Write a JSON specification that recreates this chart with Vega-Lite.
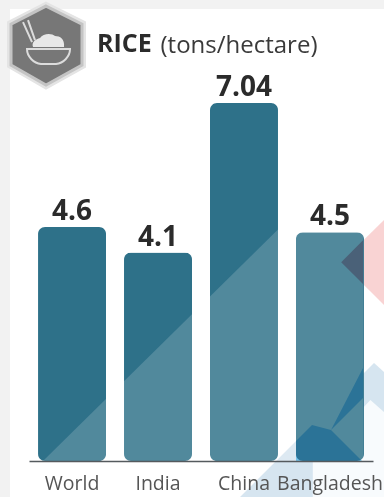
{
  "$schema": "https://vega.github.io/schema/vega-lite/v6.json",
  "width": 384,
  "height": 461,
  "autosize": "none",
  "padding": {"left": 0, "top": 0, "right": 0, "bottom": 36},
  "background": "#f2f2f2",
  "config": {"view": {"stroke": null}},
  "title": {
    "text": "RICE",
    "anchor": "start",
    "frame": "group",
    "dx": 97,
    "dy": 91,
    "baseline": "alphabetic",
    "font": "Open Sans",
    "fontSize": 25,
    "fontWeight": "bold",
    "color": "#2b2b2b"
  },
  "datasets": {
    "yields": [
      {"region": "World", "tons": 4.6},
      {"region": "India", "tons": 4.1},
      {"region": "China", "tons": 7.04},
      {"region": "Bangladesh", "tons": 4.5}
    ],
    "sheet": [{"slot": -0.22, "slotEnd": 4.128, "top": 8.89, "bottom": -0.71}],
    "sheen": [
      {"slot": 0.163, "tons": 0, "floor": 0},
      {"slot": 3.884, "tons": 6.2, "floor": 0}
    ],
    "rose": [
      {"slot": 3.63, "tons": 3.91, "floor": 3.91},
      {"slot": 4.128, "tons": 4.74, "floor": 3.07}
    ],
    "roseOnBar": [
      {"slot": 3.63, "tons": 3.91, "floor": 3.91},
      {"slot": 3.884, "tons": 4.34, "floor": 3.48}
    ],
    "sky": [
      {"slot": 2.453, "tons": -0.71, "floor": -0.71},
      {"slot": 4.012, "tons": 1.927, "floor": -0.71},
      {"slot": 4.128, "tons": 1.75, "floor": -0.71}
    ],
    "gap": [
      {"slot": 3.3, "tons": 0.0, "floor": -0.71},
      {"slot": 3.97, "tons": 1.2, "floor": -0.71},
      {"slot": 4.128, "tons": 0.964, "floor": -0.71}
    ],
    "deep": [
      {"piece": "a", "slot": 3.105, "tons": 0.393, "floor": 0},
      {"piece": "a", "slot": 3.291, "tons": 0.708, "floor": 0},
      {"piece": "a", "slot": 3.512, "tons": 0.61, "floor": 0},
      {"piece": "a", "slot": 3.872, "tons": 0, "floor": 0},
      {"piece": "b", "slot": 3.512, "tons": 0.61, "floor": 0.61},
      {"piece": "b", "slot": 3.884, "tons": 1.829, "floor": 1.239}
    ],
    "badge": [{"slot": 0.198, "tons": 8.18}]
  },
  "layer": [
    {
      "data": {"name": "sheet"},
      "mark": {"type": "rect", "fill": "#ffffff"},
      "encoding": {
        "x": {"field": "slot", "type": "quantitative", "scale": {"domain": [-0.337, 4.128], "range": [0, 384]}, "axis": null},
        "x2": {"field": "slotEnd"},
        "y": {"field": "top", "type": "quantitative", "scale": {"domain": [0, 9.066], "range": [461, 0], "nice": false}, "axis": {"zindex": 1, "title": "(tons/hectare)", "titleAngle": 0, "titleX": 160, "titleY": 52, "titleAlign": "left", "titleBaseline": "alphabetic", "titleFont": "Open Sans", "titleFontSize": 24, "titleFontWeight": "normal", "titleColor": "#3a3a3a", "domain": false, "ticks": false, "labels": false, "grid": false}},
        "y2": {"field": "bottom"}
      }
    },
    {
      "data": {"name": "rose"},
      "mark": {"type": "area", "fill": "#f9d3d3"},
      "encoding": {
        "x": {"field": "slot", "type": "quantitative", "scale": {"domain": [-0.337, 4.128], "range": [0, 384]}, "axis": null},
        "y": {"field": "tons", "type": "quantitative", "scale": {"domain": [0, 9.066], "range": [461, 0], "nice": false}},
        "y2": {"field": "floor"}
      }
    },
    {
      "data": {"name": "sky"},
      "mark": {"type": "area", "fill": "#d6e5f0"},
      "encoding": {
        "x": {"field": "slot", "type": "quantitative", "scale": {"domain": [-0.337, 4.128], "range": [0, 384]}, "axis": null},
        "y": {"field": "tons", "type": "quantitative", "scale": {"domain": [0, 9.066], "range": [461, 0], "nice": false}},
        "y2": {"field": "floor"}
      }
    },
    {
      "data": {"name": "gap"},
      "mark": {"type": "area", "fill": "#f8fbfd"},
      "encoding": {
        "x": {"field": "slot", "type": "quantitative", "scale": {"domain": [-0.337, 4.128], "range": [0, 384]}, "axis": null},
        "y": {"field": "tons", "type": "quantitative", "scale": {"domain": [0, 9.066], "range": [461, 0], "nice": false}},
        "y2": {"field": "floor"}
      }
    },
    {
      "data": {"name": "yields"},
      "mark": {"type": "bar", "cornerRadius": 7, "width": 68, "fill": "#2e7189"},
      "encoding": {
        "x": {
          "field": "region",
          "type": "nominal",
          "sort": null,
          "scale": {"range": [29, 373], "paddingInner": 0.209, "paddingOuter": 0.105},
          "axis": {"zindex": 1, "title": null, "labelAngle": 0, "labelFont": "Open Sans", "labelFontSize": 19.5, "labelColor": "#555555", "labelPadding": 13, "ticks": false, "domainColor": "#555a5e", "domainWidth": 1.5, "grid": false, "labelOverlap": false, "labelFlush": false}
        },
        "y": {"field": "tons", "type": "quantitative", "scale": {"domain": [0, 9.066], "range": [461, 0], "nice": false}}
      }
    },
    {
      "data": {"name": "sheen"},
      "mark": {"type": "area", "fill": "#ffffff", "opacity": 0.17},
      "encoding": {
        "x": {"field": "slot", "type": "quantitative", "scale": {"domain": [-0.337, 4.128], "range": [0, 384]}, "axis": null},
        "y": {"field": "tons", "type": "quantitative", "scale": {"domain": [0, 9.066], "range": [461, 0], "nice": false}},
        "y2": {"field": "floor"}
      }
    },
    {
      "data": {"name": "roseOnBar"},
      "mark": {"type": "area", "fill": "#e8b4c4", "blend": "multiply"},
      "encoding": {
        "x": {"field": "slot", "type": "quantitative", "scale": {"domain": [-0.337, 4.128], "range": [0, 384]}, "axis": null},
        "y": {"field": "tons", "type": "quantitative", "scale": {"domain": [0, 9.066], "range": [461, 0], "nice": false}},
        "y2": {"field": "floor"}
      }
    },
    {
      "data": {"name": "deep"},
      "mark": {"type": "area", "fill": "#87d6f7", "blend": "multiply"},
      "encoding": {
        "x": {"field": "slot", "type": "quantitative", "scale": {"domain": [-0.337, 4.128], "range": [0, 384]}, "axis": null},
        "y": {"field": "tons", "type": "quantitative", "scale": {"domain": [0, 9.066], "range": [461, 0], "nice": false}},
        "y2": {"field": "floor"},
        "detail": {"field": "piece"}
      }
    },
    {
      "data": {"name": "yields"},
      "mark": {"type": "text", "font": "Open Sans", "fontSize": 28, "fontWeight": "bold", "color": "#2b2b2b", "baseline": "alphabetic", "dy": -7},
      "encoding": {
        "x": {"field": "region", "type": "nominal", "sort": null, "scale": {"range": [29, 373], "paddingInner": 0.209, "paddingOuter": 0.105}, "axis": null},
        "y": {"field": "tons", "type": "quantitative", "scale": {"domain": [0, 9.066], "range": [461, 0], "nice": false}},
        "text": {"field": "tons", "type": "nominal"}
      }
    },
    {
      "data": {"name": "badge"},
      "mark": {"type": "point", "shape": "M0,-39L36,-21L36,20L0,40L-35,20L-35,-21Z", "size": 4, "filled": true, "fill": "#ebebeb", "stroke": "#e4e4e4", "strokeWidth": 8, "opacity": 1},
      "encoding": {
        "x": {"field": "slot", "type": "quantitative", "scale": {"domain": [-0.337, 4.128], "range": [0, 384]}, "axis": null},
        "y": {"field": "tons", "type": "quantitative", "scale": {"domain": [0, 9.066], "range": [461, 0], "nice": false}}
      }
    },
    {
      "data": {"name": "badge"},
      "mark": {"type": "point", "shape": "M0,-39L36,-21L36,20L0,40L-35,20L-35,-21Z", "size": 4, "filled": true, "fill": "#777777", "stroke": "#c4c4c4", "strokeWidth": 3, "opacity": 1},
      "encoding": {
        "x": {"field": "slot", "type": "quantitative", "scale": {"domain": [-0.337, 4.128], "range": [0, 384]}, "axis": null},
        "y": {"field": "tons", "type": "quantitative", "scale": {"domain": [0, 9.066], "range": [461, 0], "nice": false}}
      }
    },
    {
      "data": {"name": "badge"},
      "mark": {"type": "point", "shape": "M-13,2C-15,-3 -10,-6 -6,-7C-3,-12 6,-12 9,-9C14,-9 19,-6 18,2Z", "size": 4, "filled": true, "fill": "#e8e8e8", "opacity": 1},
      "encoding": {
        "x": {"field": "slot", "type": "quantitative", "scale": {"domain": [-0.337, 4.128], "range": [0, 384]}, "axis": null},
        "y": {"field": "tons", "type": "quantitative", "scale": {"domain": [0, 9.066], "range": [461, 0], "nice": false}}
      }
    },
    {
      "data": {"name": "badge"},
      "mark": {"type": "point", "shape": "M-19,4L24,4C24,12 17,18 10,19L-5,19C-12,18 -19,12 -19,4ZM-23,-23L-14,-3M-18,-25L-11,-5", "size": 4, "filled": false, "stroke": "#dcdcdc", "strokeWidth": 2, "opacity": 1},
      "encoding": {
        "x": {"field": "slot", "type": "quantitative", "scale": {"domain": [-0.337, 4.128], "range": [0, 384]}, "axis": null},
        "y": {"field": "tons", "type": "quantitative", "scale": {"domain": [0, 9.066], "range": [461, 0], "nice": false}}
      }
    }
  ],
  "resolve": {"scale": {"x": "independent"}, "axis": {"x": "independent"}}
}
